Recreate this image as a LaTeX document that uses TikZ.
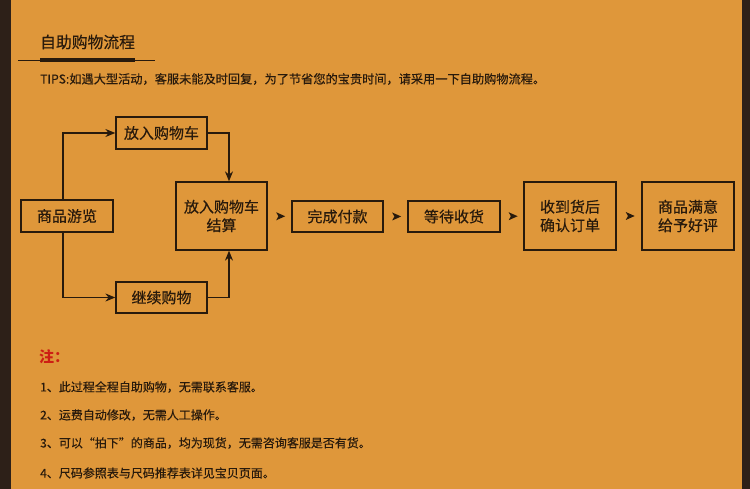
\documentclass[tikz,border=0pt]{standalone}
\usepackage{fontspec}
\setmainfont{Noto Sans CJK SC}[UprightFeatures={FakeBold=0.35}]
\usetikzlibrary{arrows.meta,calc}
\definecolor{bgorange}{RGB}{223,151,58}
\definecolor{darkedge}{RGB}{45,32,24}
\definecolor{inkc}{RGB}{40,26,12}
\definecolor{notered}{RGB}{205,30,20}
\tikzset{
  stepbox/.style={draw=inkc, line width=1.3pt, text=inkc, inner sep=0pt, align=center,
    font=\fontsize{15}{18.5}\selectfont},
  conn/.style={draw=inkc, line width=1.1pt, -{Stealth[length=10pt,width=8pt]}},
  ahead/.style={fill=inkc},
  plain/.style={anchor=west, text=inkc, inner sep=0pt, font=\fontsize{12}{14}\selectfont}
}
\begin{document}
\begin{tikzpicture}[x=1pt,y=-1pt]
\useasboundingbox (0,0) rectangle (750,489);
\fill[bgorange] (0,0) rectangle (750,489);
\fill[darkedge] (0,0) rectangle (10.5,489);
\fill[darkedge] (742,0) rectangle (750,489);

% title
\node[anchor=west, text=inkc, inner sep=0pt, font=\fontsize{15.8}{18}\selectfont] (title) at (40,42) {自助购物流程};
\coordinate (ulA) at (18,60.5);
\coordinate (ulB) at (155,60.5);
\draw[inkc, line width=0.9pt] (ulA) -- (ulB);
\fill[inkc] (40,58.5) rectangle (135,62.5);
\node[plain, font=\fontsize{12.2}{14}\selectfont] (tips) at (40,79) {TIPS:如遇大型活动，客服未能及时回复，为了节省您的宝贵时间，请采用一下自助购物流程。};

% boxes
\node[stepbox, minimum width=92pt, minimum height=32pt] (browse) at (67,216) {商品游览};
\node[stepbox, minimum width=91pt, minimum height=32pt] (cart) at (161.5,133) {放入购物车};
\node[stepbox, minimum width=91pt, minimum height=31pt] (cont) at (161.5,297.5) {继续购物};
\node[stepbox, minimum width=91pt, minimum height=68pt] (settle) at (221.5,216) {放入购物车\\结算};
\node[stepbox, minimum width=91pt, minimum height=31pt] (pay) at (337.5,216.5) {完成付款};
\node[stepbox, minimum width=92pt, minimum height=31pt] (wait) at (454,216.5) {等待收货};
\node[stepbox, minimum width=92pt, minimum height=68pt] (recv) at (570,216) {收到货后\\确认订单};
\node[stepbox, minimum width=92pt, minimum height=68pt] (review) at (688,216) {商品满意\\给予好评};

% connectors
\draw[conn] ($(browse.north)+(-4,0)$) |- (cart.west);
\draw[conn] ($(browse.south)+(-4,0)$) |- (cont.west);
\draw[conn] (cart.east) -| ($(settle.north)+(7.5,0)$);
\draw[conn] (cont.east) -| ($(settle.south)+(7.5,0)$);

% standalone arrowheads
\path (settle.east) -- coordinate[pos=0.55] (m1) (pay.west);
\path (pay.east) -- coordinate[pos=0.55] (m2) (wait.west);
\path (wait.east) -- coordinate[pos=0.55] (m3) (recv.west);
\path (recv.east) -- coordinate[pos=0.55] (m4) (review.west);
\foreach \m in {m1,m2,m3,m4}{
  \fill[ahead] (\m) ++(-4.5,-4) -- ++(9,4) -- ++(-9,4) -- ++(2.2,-4) -- cycle;
}

% notes
\node[anchor=west, inner sep=0pt, text=notered, font=\fontsize{15}{18}\selectfont\bfseries] (note) at (39,357) {注：};
\node[plain] (n1) at (40,387) {1、此过程全程自助购物，无需联系客服。};
\node[plain] (n2) at (40,415) {2、运费自动修改，无需人工操作。};
\node[plain] (n3) at (40,443) {3、可以“拍下”的商品，均为现货，无需咨询客服是否有货。};
\node[plain] (n4) at (40,473) {4、尺码参照表与尺码推荐表详见宝贝页面。};
\end{tikzpicture}
\end{document}
